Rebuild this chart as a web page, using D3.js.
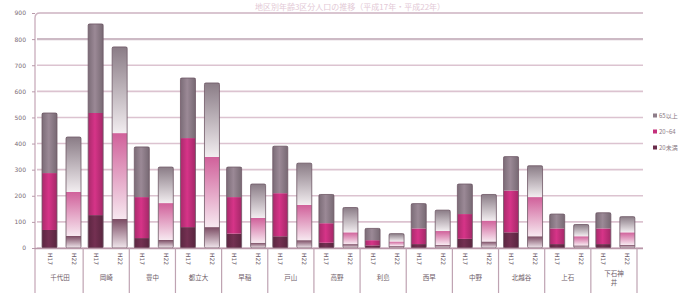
<!DOCTYPE html>
<html><head><meta charset="utf-8">
<script src="https://cdn.jsdelivr.net/npm/d3@7/dist/d3.min.js"></script>
<style>body{margin:0;background:#fff}svg{display:block}</style>
</head><body>
<svg id="c" width="696" height="293"></svg>
<script>
const groups = ["千代田","岡崎","豊中","都立大","早稲","戸山","高野","利島","西早","中野","北越谷","上石","下石神井"];
const years = ["H17","H22"];
const seriesNames = ["20未満","20~64","65以上"];
const under20_H17 = [69,126,38,80,55,45,20,10,15,35,60,15,15];
const under20_H22 = [46,111,31,80,20,30,15,8,12,25,45,10,12];
const mid_H17 = [218,391,157,341,140,165,75,20,60,95,160,60,60];
const mid_H22 = [169,329,141,269,95,135,45,17,53,80,150,35,48];
const over65_H17 = [230,341,192,230,115,180,110,45,95,115,130,55,60];
const over65_H22 = [210,330,138,283,130,160,95,30,80,100,120,45,60];
const yTicks = [0,100,200,300,400,500,600,700,800,900];

const svg = d3.select("#c");
const defs = svg.append("defs");
function grad(id, c1, c2){
  const g = defs.append("linearGradient").attr("id",id).attr("x1",0).attr("y1",0).attr("x2",0).attr("y2",1);
  g.append("stop").attr("offset","0%").attr("stop-color",c1);
  g.append("stop").attr("offset","100%").attr("stop-color",c2);
}
grad("g0","#7a4a62","#f0e6ec");
grad("g1","#d0609a","#f7e8f0");
grad("g2","#8a7c86","#f2edf0");
function hgrad(id, c){
  const g = defs.append("linearGradient").attr("id",id).attr("x1",0).attr("y1",0).attr("x2",1).attr("y2",0);
  g.append("stop").attr("offset","0%").attr("stop-color",d3.color(c).darker(0.4));
  g.append("stop").attr("offset","45%").attr("stop-color",d3.color(c).brighter(0.25));
  g.append("stop").attr("offset","100%").attr("stop-color",d3.color(c).darker(0.5));
}
const solid = ["#6a2c4b","#c4307c","#8e7d89"];
hgrad("s0",solid[0]); hgrad("s1",solid[1]); hgrad("s2",solid[2]);

const y = d3.scaleLinear().domain([0,900]).range([248,13]);
const x = d3.scaleBand().domain(groups).range([37,637]);
const xs = d3.scaleBand().domain(years).range([5,44]).paddingInner(0.375);

// title
svg.append("text").attr("x",350).attr("y",10).attr("text-anchor","middle")
  .attr("font-family","Noto Sans CJK JP").attr("font-size",8).attr("fill","#e3c9d6")
  .text("地区別年齢3区分人口の推移（平成17年・平成22年）");

// grid
svg.append("g").selectAll("line").data(yTicks.slice(0,-1)).join("line")
  .attr("x1",37).attr("x2",643).attr("y1",d=>y(d)).attr("y2",d=>y(d))
  .attr("stroke",d=>d===800?"#cdbac5":"#dcc3d0").attr("stroke-width",d=>d===800?2.2:1.6);
// top frame with rounded corner
svg.append("path").attr("d",`M35,293 L35,${y(900)+5} Q35,${y(900)} 40,${y(900)} L643,${y(900)}`)
  .attr("fill","none").attr("stroke","#cdb3c1").attr("stroke-width",1.4);

// y axis labels
const ya = svg.append("g").attr("transform","translate(35,0)")
  .call(d3.axisLeft(y).tickValues(yTicks).tickSize(3).tickPadding(6).tickFormat(d3.format("d")));
ya.select(".domain").remove();
ya.selectAll("line").attr("stroke","#b89aaa");
ya.selectAll("text").attr("font-family","DejaVu Sans").attr("font-size",6).attr("fill","#7b6a74");

// bars
const data = [];
groups.forEach((g,i)=>{
  const rows = [[under20_H17[i],mid_H17[i],over65_H17[i]],[under20_H22[i],mid_H22[i],over65_H22[i]]];
  rows.forEach((vals,j)=>{
    let base=0;
    vals.forEach((v,k)=>{ data.push({g,yr:years[j],j,k,y0:base,y1:base+v}); base+=v; });
  });
});
svg.append("g").selectAll("rect").data(data).join("rect")
  .attr("x",d=>x(d.g)+xs(d.yr)).attr("width",xs.bandwidth())
  .attr("y",d=>y(d.y1)).attr("height",d=>y(d.y0)-y(d.y1))
  .attr("fill",d=>d.j===0?`url(#s${d.k})`:`url(#g${d.k})`);
// bar outlines
const totals = [];
groups.forEach((g,i)=>{
  totals.push({g,yr:"H17",v:under20_H17[i]+mid_H17[i]+over65_H17[i]});
  totals.push({g,yr:"H22",v:under20_H22[i]+mid_H22[i]+over65_H22[i]});
});
svg.append("g").selectAll("rect").data(totals).join("rect")
  .attr("x",d=>x(d.g)+xs(d.yr)).attr("width",xs.bandwidth())
  .attr("y",d=>y(d.v)).attr("height",d=>y(0)-y(d.v))
  .attr("rx",1.5).attr("fill","none").attr("stroke","#6e5866").attr("stroke-width",0.8);

// x axis table
svg.append("line").attr("x1",35).attr("x2",643).attr("y1",248.5).attr("y2",248.5)
  .attr("stroke","#b897a8").attr("stroke-width",1.4);
svg.append("g").selectAll("line").data(groups.slice(1).concat(["end"])).join("line")
  .attr("x1",d=>d==="end"?637:x(d)).attr("x2",d=>d==="end"?637:x(d))
  .attr("y1",248).attr("y2",293).attr("stroke","#bfa3b2").attr("stroke-width",1.2);
// year sublabels (vertical)
const sub = [];
groups.forEach(g=>years.forEach(yr=>sub.push({g,yr})));
svg.append("g").selectAll("text").data(sub).join("text")
  .attr("transform",d=>`translate(${x(d.g)+xs(d.yr)+xs.bandwidth()/2-2},253) rotate(90)`)
  .attr("font-family","DejaVu Sans").attr("font-size",6).attr("fill","#6e5d68")
  .text(d=>d.yr);
// group labels
const gl = svg.append("g");
groups.forEach(d=>{
  const cx = x(d)+x.bandwidth()/2;
  const lines = d.length>3 ? [d.slice(0,3), d.slice(3)] : [d];
  lines.forEach((s,li)=>{
    gl.append("text").attr("x",cx).attr("y",(lines.length>1?276:280)+li*9).attr("text-anchor","middle")
      .attr("font-family","Noto Sans CJK JP").attr("font-size",6.5).attr("fill","#6e5d68").text(s);
  });
});

// legend
const leg = svg.append("g").attr("transform","translate(653,0)");
const legItems = [{n:seriesNames[2],c:solid[2],y:116},{n:seriesNames[1],c:solid[1],y:132},{n:seriesNames[0],c:solid[0],y:148}];
leg.selectAll("rect").data(legItems).join("rect").attr("x",0).attr("y",d=>d.y-2.5).attr("width",4).attr("height",4).attr("fill",d=>d.c);
leg.selectAll("text").data(legItems).join("text").attr("x",6).attr("y",d=>d.y+2)
  .attr("font-family","Noto Sans CJK JP").attr("font-size",6).attr("fill","#8a7a84").text(d=>d.n);
</script>
</body></html>
